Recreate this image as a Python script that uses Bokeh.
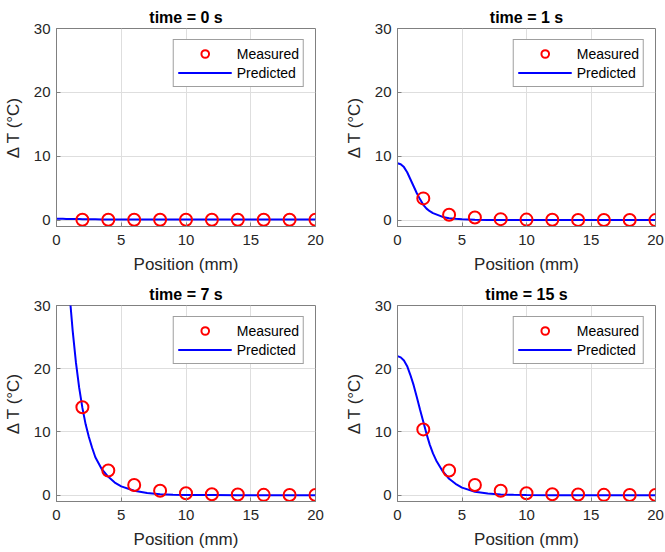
from bokeh.plotting import figure
from bokeh.layouts import gridplot
from bokeh.models import Range1d, FixedTicker, Legend, LegendItem
from bokeh.embed import file_html
from bokeh.resources import INLINE

# ---------------- data ----------------
titles = ["time = 0 s", "time = 1 s", "time = 7 s", "time = 15 s"]

meas_x = [2, 4, 6, 8, 10, 12, 14, 16, 18, 20]
meas_t0 = [0.05, 0.05, 0.05, 0.05, 0.05, 0.05, 0.05, 0.05, 0.05, 0.05]
meas_t1 = [3.4, 0.85, 0.4, 0.15, 0.08, 0.05, 0.03, 0.02, 0.01, 0.0]
meas_t7 = [13.9, 3.9, 1.6, 0.7, 0.3, 0.15, 0.1, 0.05, 0.03, 0.02]
meas_t15 = [10.4, 3.9, 1.6, 0.7, 0.3, 0.15, 0.1, 0.05, 0.03, 0.02]

pred_x = [0, 0.25, 0.5, 0.75, 1, 1.25, 1.5, 1.75, 2, 2.25, 2.5, 2.75, 3, 3.5, 4,
          4.5, 5, 6, 7, 8, 9, 10, 12, 14, 16, 18, 20]
pred_t0 = [0.2, 0.2, 0.2, 0.19, 0.19, 0.18, 0.17, 0.16, 0.15, 0.14, 0.13, 0.12,
           0.12, 0.11, 0.1, 0.1, 0.1, 0.1, 0.1, 0.1, 0.1, 0.1, 0.1, 0.1, 0.1, 0.1, 0.1]
pred_t1 = [8.9, 8.75, 8.3, 7.5, 6.4, 5.3, 4.2, 3.25, 2.4, 1.8, 1.4, 1.1,
           0.9, 0.5, 0.3, 0.2, 0.12, 0.05, 0.03, 0.02, 0.01, 0.0, 0.0, 0.0, 0.0, 0.0, 0.0]
pred_t7 = [60, 52, 45, 38, 32, 26, 21, 17, 13.8, 11.2, 9.2, 7.5,
           6.0, 4.1, 2.9, 2.0, 1.4, 0.7, 0.35, 0.15, 0.07, 0.03, 0.01, 0.0, 0.0, 0.0, 0.0]
pred_t15 = [22.0, 21.8, 21.3, 20.4, 19.0, 17.4, 15.5, 13.5, 11.6, 9.7, 8.0, 6.6,
            5.5, 3.8, 2.6, 1.8, 1.2, 0.55, 0.25, 0.1, 0.05, 0.02, 0.0, 0.0, 0.0, 0.0, 0.0]

meas_all = [meas_t0, meas_t1, meas_t7, meas_t15]
pred_all = [pred_t0, pred_t1, pred_t7, pred_t15]

x_ticks = [0, 5, 10, 15, 20]
y_ticks = [0, 10, 20, 30]

FONT = "Liberation Sans"
AX_COL = "#808080"
TXT_COL = "#262626"

# (frame_w, frame_h, left, right, top, bottom)
geom = [
    (259, 198, 49, 22, 28, 55),
    (258, 198, 60, 9, 28, 55),
    (259, 196, 49, 22, 20, 52),
    (258, 196, 60, 9, 20, 52),
]


def style_axis(ax):
    ax.axis_line_color = AX_COL
    ax.major_tick_line_color = AX_COL
    ax.major_tick_in = 4
    ax.major_tick_out = 0
    ax.minor_tick_line_color = None
    ax.major_label_text_font = FONT
    ax.major_label_text_font_size = "15px"
    ax.major_label_text_color = TXT_COL
    ax.axis_label_text_font = FONT
    ax.axis_label_text_font_size = "17px"
    ax.axis_label_text_font_style = "normal"
    ax.axis_label_text_color = TXT_COL


figs = []
for i in range(4):
    fw, fh, bl, br, bt, bb = geom[i]
    p = figure(frame_width=fw, frame_height=fh, output_backend="svg",
               toolbar_location=None,
               x_range=Range1d(0, 20), y_range=Range1d(-1, 30),
               min_border_left=bl, min_border_right=br,
               min_border_top=bt, min_border_bottom=bb,
               x_axis_label="Position (mm)", y_axis_label="Δ T (°C)")
    p.title.text = titles[i]
    p.title.align = "center"
    p.title.text_font = FONT
    p.title.text_font_size = "16px"
    p.title.text_font_style = "bold"
    p.title.text_color = "#000000"
    p.title.standoff = 5
    p.outline_line_color = AX_COL
    p.outline_line_width = 1
    p.background_fill_color = "white"
    p.border_fill_color = "white"

    p.xaxis.ticker = FixedTicker(ticks=x_ticks)
    p.yaxis.ticker = FixedTicker(ticks=y_ticks)
    style_axis(p.xaxis[0])
    style_axis(p.yaxis[0])
    p.xaxis.major_label_standoff = 8
    p.yaxis.major_label_standoff = 6
    p.xaxis.axis_label_standoff = 7
    p.yaxis.axis_label_standoff = 8

    p.grid.grid_line_color = "#dedede"
    p.grid.grid_line_width = 1

    r_line = p.line(pred_x, pred_all[i], line_color="#0000ff", line_width=2)
    r_circ = p.scatter(meas_x, meas_all[i], marker="circle", size=12,
                       fill_color=None, line_color="#ff0000", line_width=2)

    leg = Legend(items=[LegendItem(label="Measured", renderers=[r_circ]),
                        LegendItem(label="Predicted", renderers=[r_line])],
                 location="top_right")
    leg.margin = 11
    leg.padding = 4
    leg.spacing = 0
    leg.glyph_width = 54
    leg.glyph_height = 19
    leg.label_height = 19
    leg.label_standoff = 5
    leg.label_text_font = FONT
    leg.label_text_font_size = "14px"
    leg.label_text_color = "#000000"
    leg.border_line_color = "#404040"
    leg.border_line_width = 1
    leg.background_fill_color = "white"
    leg.background_fill_alpha = 1
    p.add_layout(leg, "center")
    figs.append(p)

grid = gridplot([[figs[0], figs[1]], [figs[2], figs[3]]], toolbar_location=None)

open("out.html", "w").write(file_html(grid, INLINE))
